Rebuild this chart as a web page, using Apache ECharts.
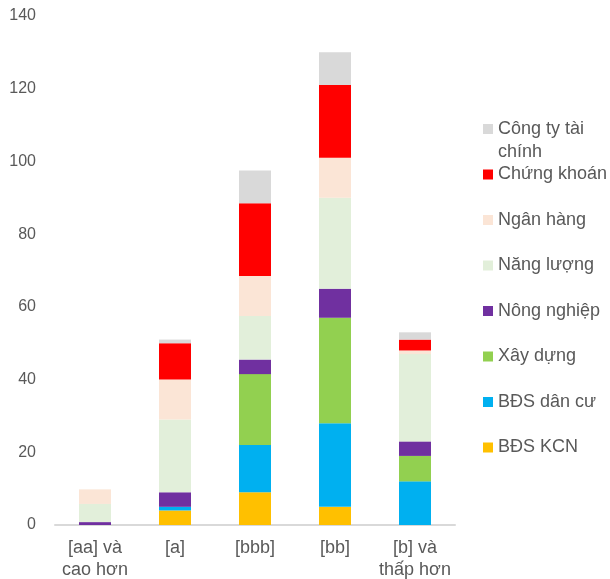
<!DOCTYPE html>
<html>
<head>
<meta charset="utf-8">
<script src="https://cdn.jsdelivr.net/npm/echarts@6/dist/echarts.min.js"></script>
<style>
  html, body { margin: 0; padding: 0; background: #fff; }
  #chart { width: 610px; height: 579px; }
</style>
</head>
<body>
<div id="chart"></div>
<script>
const categories = ['[aa] và\ncao hơn', '[a]', '[bbb]', '[bb]', '[b] và\nthấp hơn']
const yTicks = { min: 0, max: 140, step: 20 }

// bottom to top
const bdsKcn = [0, 4, 9, 5, 0]
const bdsDanCu = [0, 1, 13, 23, 12]
const xayDung = [0, 0, 19.5, 29, 7]
const nongNghiep = [0.8, 4, 4, 8, 4]
const nangLuong = [5, 20, 12, 25, 24]
const nganHang = [4, 11, 11, 11, 1]
const chungKhoan = [0, 10, 20, 20, 3]
const congTyTaiChinh = [0, 1, 9, 9, 2]

const seriesDefs = [
  { name: 'BĐS KCN', data: bdsKcn, color: '#FFC000' },
  { name: 'BĐS dân cư', data: bdsDanCu, color: '#00B0F0' },
  { name: 'Xây dựng', data: xayDung, color: '#92D050' },
  { name: 'Nông nghiệp', data: nongNghiep, color: '#7030A0' },
  { name: 'Năng lượng', data: nangLuong, color: '#E2EFDA' },
  { name: 'Ngân hàng', data: nganHang, color: '#FBE5D6' },
  { name: 'Chứng khoán', data: chungKhoan, color: '#FF0000' },
  { name: 'Công ty tài chính', data: congTyTaiChinh, color: '#D9D9D9' },
]

const font = '"Liberation Sans", Arial, sans-serif'
const textColor = '#595959'

const chart = echarts.init(document.getElementById('chart'))
chart.setOption({
  animation: false,
  grid: { left: 55, right: 155, top: 16, bottom: 54, outerBoundsMode: 'none', containLabel: false },
  xAxis: {
    type: 'category',
    data: categories,
    axisLine: { lineStyle: { color: '#d9d9d9', width: 2 } },
    axisTick: { show: false },
    axisLabel: { color: textColor, fontSize: 18, fontFamily: font, lineHeight: 22, margin: 12, interval: 0 },
  },
  yAxis: {
    type: 'value',
    min: yTicks.min,
    max: yTicks.max,
    interval: yTicks.step,
    axisLine: { show: false },
    axisTick: { show: false },
    splitLine: { show: false },
    axisLabel: { color: textColor, fontSize: 16, fontFamily: font, margin: 19 },
  },
  legend: {
    orient: 'vertical',
    left: 483,
    top: 119,
    padding: 0,
    itemWidth: 10,
    itemHeight: 10,
    itemGap: 25.5,
    icon: 'rect',
    data: seriesDefs.map(s => s.name).reverse(),
    formatter: name => name === 'Công ty tài chính' ? 'Công ty tài' : name,
    textStyle: { color: textColor, fontSize: 18, fontFamily: font, lineHeight: 20 },
  },
  graphic: [{
    type: 'text',
    x: 498,
    y: 152,
    style: { text: 'chính', fill: textColor, font: '18px ' + font, verticalAlign: 'middle' },
  }],
  series: seriesDefs.map(s => ({
    name: s.name,
    type: 'bar',
    stack: 'total',
    barWidth: 32,
    data: s.data,
    itemStyle: { color: s.color },
  })),
})
</script>
</body>
</html>
